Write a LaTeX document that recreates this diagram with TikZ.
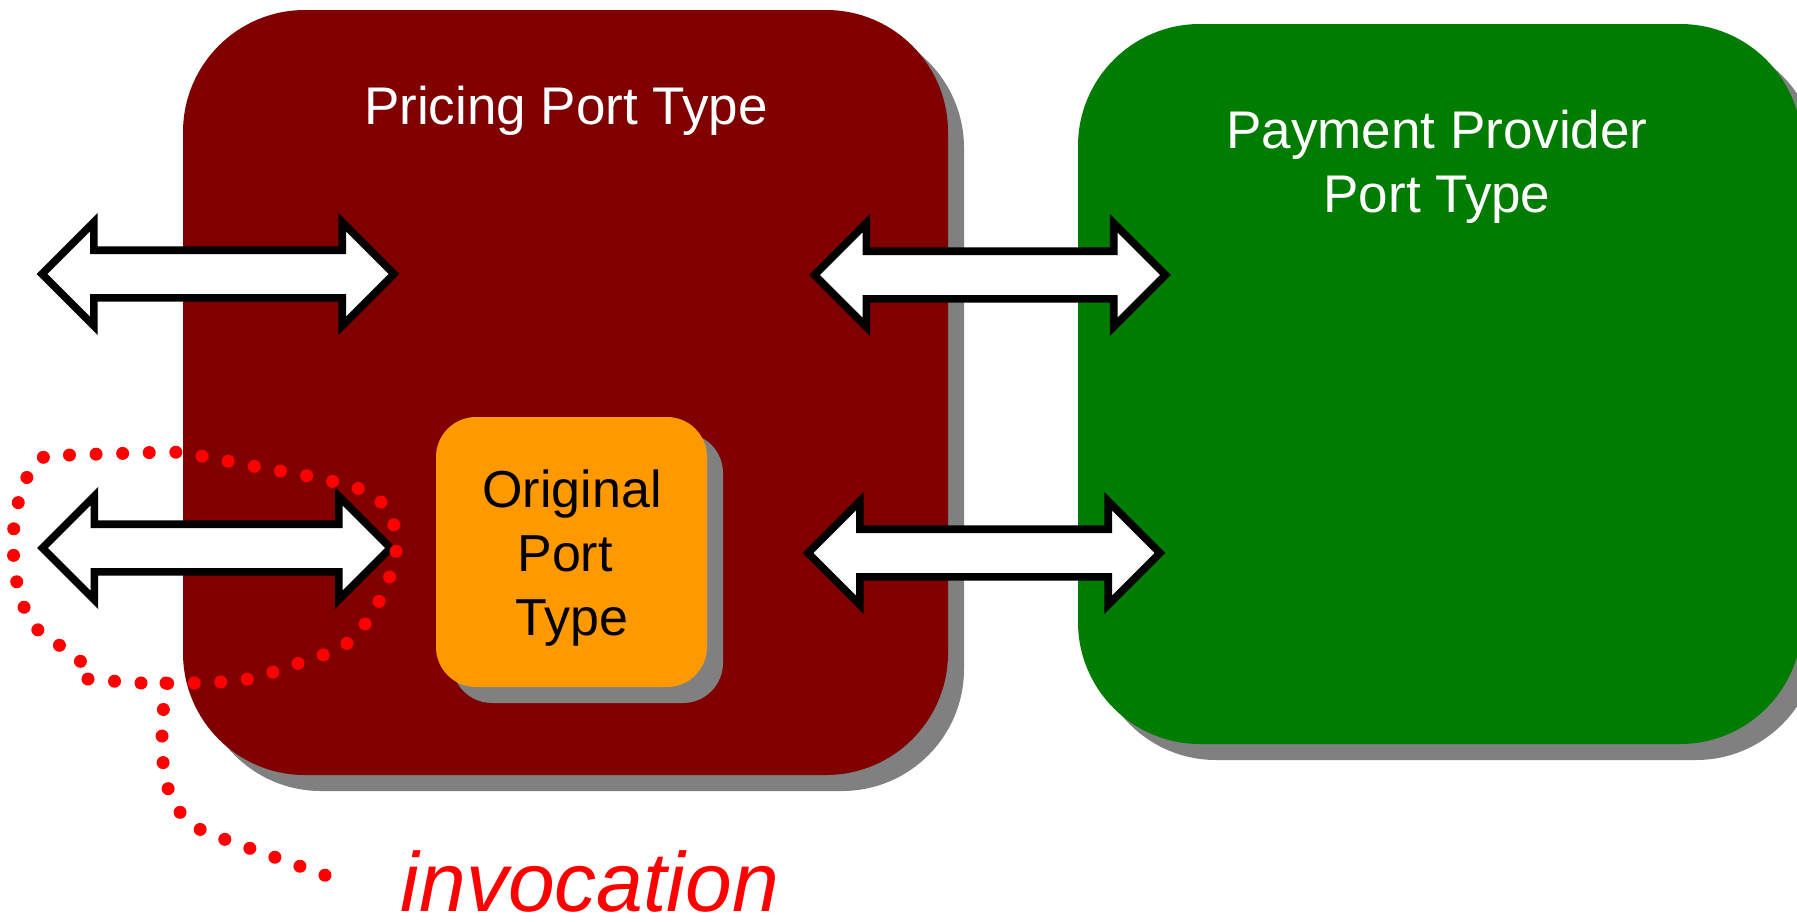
\documentclass[tikz,border=0pt]{standalone}
\usepackage{fontspec}
\setmainfont{Liberation Sans}
\usetikzlibrary{shapes.arrows,shadows}

\definecolor{pricingred}{RGB}{128,0,0}
\definecolor{providergreen}{RGB}{0,125,0}
\definecolor{portorange}{RGB}{255,153,0}
\definecolor{shadowgray}{RGB}{128,128,128}
\definecolor{callred}{RGB}{255,0,0}

\tikzset{
  porttype/.style={rectangle, inner sep=0pt, draw=none,
    drop shadow={shadow xshift=8pt, shadow yshift=-8pt, fill=shadowgray, opacity=1}},
  boxtitle/.style={text=white, font=\fontsize{26.5pt}{32pt}\selectfont, align=center, inner sep=0pt},
  msgarrow/.style={shape=double arrow, draw=black, fill=white, line width=3.85pt,
    outer sep=0pt, double arrow head extend=14pt, double arrow tip angle=90,
    inner xsep=0pt, inner ysep=10pt, text height=0pt, text depth=0pt,
    minimum width=48pt, minimum height=176pt},
  dotline/.style={draw=callred, line width=6.5pt, line cap=round,
    dash pattern=on 0pt off 13.3pt}
}

\begin{document}
\begin{tikzpicture}[x=0.5pt, y=-0.5pt]
\useasboundingbox (0,0) rectangle (1797,921);

% port type containers
\node[porttype, fill=pricingred, minimum width=382.5pt, minimum height=382.5pt,
      rounded corners=61pt] (pricing) at (565.5,392.5) {};
\node[porttype, fill=providergreen, minimum width=362pt, minimum height=360pt,
      rounded corners=61pt] (provider) at (1440,384) {};
\node[porttype, fill=portorange, minimum width=135.5pt, minimum height=135pt,
      rounded corners=20pt] (original) at (571.5,552) {};

% titles (the base anchor sits on the last line)
\node[boxtitle, anchor=base] (pricingtitle) at (566,124) {Pricing Port Type};
\node[boxtitle, anchor=base] (providertitle) at (1437,212) {Payment Provider\\Port Type};
\node[boxtitle, text=black, font=\fontsize{26pt}{31.8pt}\selectfont, anchor=base]
  (originaltitle) at (572,635) {Original\\Port\rule{7pt}{0pt}\\Type};

% message exchanges
\node[msgarrow] (clientin) at (218,274) {};
\node[msgarrow, minimum height=175.5pt] (paytop) at (990,275) {};
\node[msgarrow, minimum height=174pt] (clientcall) at (216.5,548) {};
\node[msgarrow] (paybottom) at (984,553) {};

% invocation marker around the lower exchange
\draw[dotline] plot[smooth, tension=0.55] coordinates {
  (88,679) (141.7,683) (194.7,683) (247.7,679) (299,663) (347.7,643)
  (379.3,601) (396,552) (389,512) (362,490) (310,476.4) (258,467)
  (206,457) (179,452.3) (125.7,453.3) (72.3,455) (45.7,456) (29,473)
  (16,512) (13.3,551) (20,596) (38,630) (77.3,657.5) (88,679)};

\node[text=callred, font=\fontsize{42pt}{48pt}\selectfont\itshape, anchor=base,
      inner sep=0pt] (invocation) at (590,911) {invocation};
\coordinate (tailstart) at (166,683);
\coordinate (tailend) at (330,877);
\draw[dotline] (tailstart) .. controls (157,760) and (160,815) .. (210,834) -- (tailend);
\end{tikzpicture}
\end{document}
